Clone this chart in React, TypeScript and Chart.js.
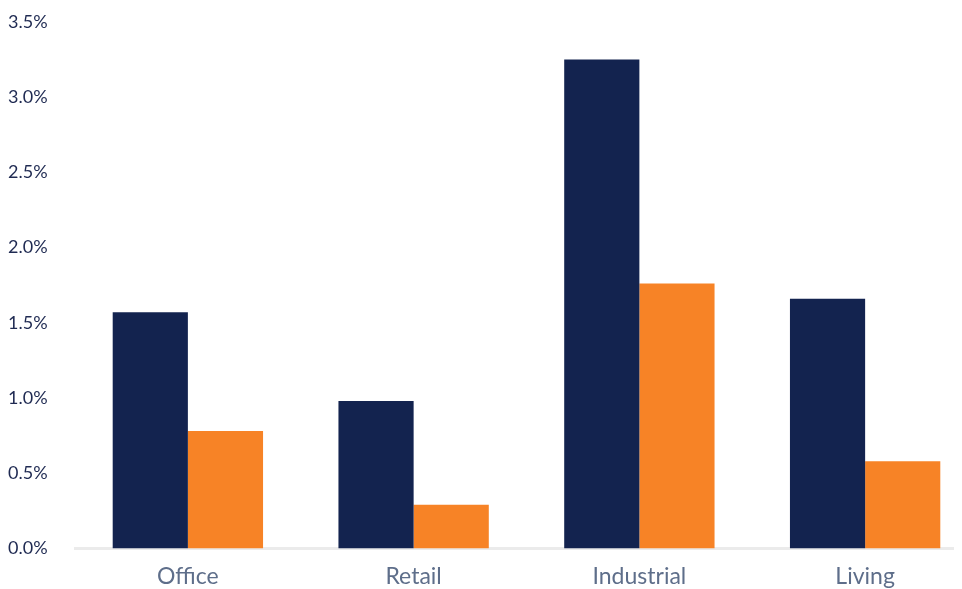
import React, { useEffect, useRef } from "react";
import { Chart, registerables } from "chart.js";

Chart.register(...registerables);

const categories = ["Office", "Retail", "Industrial", "Living"];
const seriesA = [1.57, 0.98, 3.25, 1.66];
const seriesB = [0.78, 0.29, 1.76, 0.58];
const yTicks = { min: 0, max: 3.5, step: 0.5 };

export default function App() {
  const ref = useRef<HTMLCanvasElement | null>(null);
  useEffect(() => {
    if (!ref.current) return;
    const chart = new Chart(ref.current, {
      type: "bar",
      data: {
        labels: categories,
        datasets: [
          { label: "A", data: seriesA, backgroundColor: "#13234f", categoryPercentage: 0.666, barPercentage: 1 },
          { label: "B", data: seriesB, backgroundColor: "#f78326", categoryPercentage: 0.666, barPercentage: 1 },
        ],
      },
      options: {
        responsive: false,
        animation: false,
        layout: { padding: { top: 5, right: 0, left: 0, bottom: 0 } },
        plugins: { legend: { display: false }, tooltip: { enabled: false } },
        scales: {
          x: {
            grid: { display: false },
            border: { color: "#ebebeb", width: 3 },
            ticks: { color: "#5e6e8a", font: { family: "Lato", size: 23 }, padding: 6 },
          },
          y: {
            min: yTicks.min,
            max: yTicks.max,
            grid: { display: false },
            border: { display: false },
            afterFit: (s: any) => { s.width = 67; },
            ticks: {
              stepSize: yTicks.step,
              crossAlign: "far",
              color: "#1f2a52",
              font: { family: "Lato", size: 18 },
              callback: (v: any) => Number(v).toFixed(1) + "%",
            },
          },
        },
      },
    });
    return () => chart.destroy();
  }, []);
  return (
    <div style={{ width: 954, height: 581, overflow: "hidden" }}>
      <canvas ref={ref} width={970} height={588} style={{ width: 970, height: 588, display: "block" }} />
    </div>
  );
}
